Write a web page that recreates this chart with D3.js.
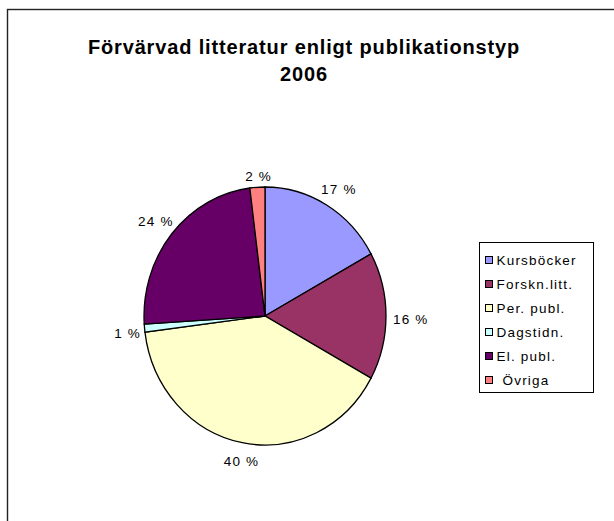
<!DOCTYPE html>
<html>
<head>
<meta charset="utf-8">
<script src="https://cdn.jsdelivr.net/npm/d3@7"></script>
<style>
  body { margin: 0; background: #fff; }
  svg { display: block; }
</style>
</head>
<body>
<svg id="chart"></svg>
<script>
// Data
const categories = ["Kursböcker", "Forskn.litt.", "Per. publ.", "Dagstidn.", "El. publ.", "Övriga"];
const values = [17, 16, 40, 1, 24, 2];
const colors = ["#9999FF", "#993366", "#FFFFCC", "#CCFFFF", "#660066", "#FF8080"];
const titleLines = ["Förvärvad litteratur enligt publikationstyp", "2006"];

const width = 614;
const height = 521;
const font = "'Liberation Sans', Arial, sans-serif";

const svg = d3.select("#chart")
  .attr("width", width)
  .attr("height", height);

// outer chart frame (runs past the right and bottom edge)
svg.append("rect")
  .attr("x", 7.5)
  .attr("y", 9.5)
  .attr("width", 700)
  .attr("height", 600)
  .attr("fill", "#fff")
  .attr("stroke", "#222")
  .attr("stroke-width", 1.4);

// title
svg.append("g")
  .selectAll("text")
  .data(titleLines)
  .join("text")
  .attr("x", 304)
  .attr("y", (d, i) => 54 + i * 27)
  .attr("text-anchor", "middle")
  .style("font-family", font)
  .style("font-size", "20px")
  .style("font-weight", "bold")
  .style("letter-spacing", "0.85px")
  .text(d => d);

// --- pie (slightly taller than wide, like the original) ---
const cx = 265, cy = 316;
const r = 121;
const sy = 129 / 121;

const pie = d3.pie().value(d => d).sort(null);
const arcs = pie(values);
const arc = d3.arc().innerRadius(0).outerRadius(r);

const pg = svg.append("g")
  .attr("transform", `translate(${cx},${cy}) scale(1,${sy})`);

pg.selectAll("path")
  .data(arcs)
  .join("path")
  .attr("d", arc)
  .attr("fill", (d, i) => colors[i])
  .attr("stroke", "#000")
  .attr("stroke-width", 1.3)
  .attr("vector-effect", "non-scaling-stroke");

// percent labels outside the pie
const lg = svg.append("g");
arcs.forEach((d, i) => {
  const a = (d.startAngle + d.endAngle) / 2;
  const t = lg.append("text")
    .attr("text-anchor", "middle")
    .attr("dominant-baseline", "central")
    .style("font-family", font)
    .style("font-size", "13.5px")
    .style("letter-spacing", "1.2px")
    .text(`${values[i]} %`);
  const bb = t.node().getBBox();
  const ext = Math.abs(Math.sin(a)) * bb.width / 2 + Math.abs(Math.cos(a)) * bb.height / 2 / sy;
  const R = r + 5 + ext;
  t.attr("x", cx + Math.sin(a) * R + 2)
   .attr("y", cy - Math.cos(a) * R * sy + 3);
});

// --- legend ---
const legX = 479.5, legY = 242.5;
const legend = svg.append("g");
legend.append("rect")
  .attr("x", legX)
  .attr("y", legY)
  .attr("width", 114)
  .attr("height", 150)
  .attr("fill", "#fff")
  .attr("stroke", "#000")
  .attr("stroke-width", 1);

const ly = d3.scalePoint().domain(categories).range([legY + 18, legY + 138]);

const items = legend.selectAll("g.item")
  .data(categories)
  .join("g")
  .attr("class", "item")
  .attr("transform", d => `translate(${legX + 6},${ly(d)})`);

items.append("rect")
  .attr("x", 0)
  .attr("y", -4)
  .attr("width", 7)
  .attr("height", 7)
  .attr("fill", (d, i) => colors[i])
  .attr("stroke", "#000")
  .attr("stroke-width", 1);

items.append("text")
  .attr("x", d => d === "Övriga" ? 17 : 11)
  .attr("y", 0)
  .attr("dominant-baseline", "central")
  .style("font-family", font)
  .style("font-size", "13.5px")
  .style("letter-spacing", "1.2px")
  .text(d => d);
</script>
</body>
</html>
